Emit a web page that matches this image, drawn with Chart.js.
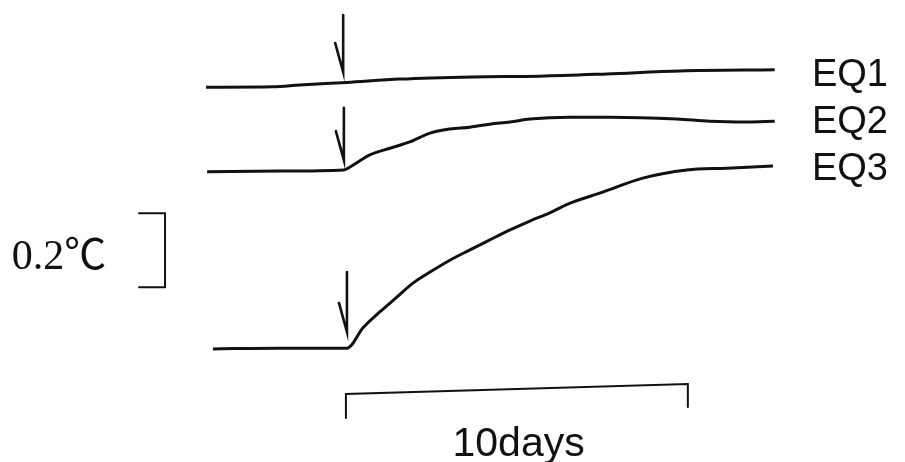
<!DOCTYPE html>
<html lang="en">
<head>
    <meta charset="UTF-8">
    <title>EQ temperature response</title>
    <script src="https://cdn.jsdelivr.net/npm/chart.js"></script>
    <style>
        body {
            margin: 0;
            background: #fff;
        }
        #wrap {
            width: 905px;
            height: 462px;
        }
    </style>
</head>
<body>
<div id="wrap"><canvas id="myChart" width="905" height="462"></canvas></div>
<script>
// days after the event (arrow = day 0)
const eq1Days = [-4.09, -2.13, -1.35, 0.03, 1.58, 3.71, 5.67, 7.63, 9.77, 12.54];
const eq1Temp = [0.704, 0.705, 0.710, 0.717, 0.726, 0.732, 0.734, 0.740, 0.748, 0.751];

const eq2Days = [-4.06, -1.93, -0.06, 0.12, 0.70, 1.29, 1.87, 2.46, 3.04, 3.63, 4.21, 4.80, 5.38, 6.55, 7.72, 9.68, 10.64, 11.73, 12.54];
const eq2Temp = [0.475, 0.477, 0.480, 0.488, 0.521, 0.539, 0.556, 0.580, 0.591, 0.596, 0.604, 0.610, 0.618, 0.623, 0.623, 0.618, 0.612, 0.610, 0.612];

const eq3Days = [-3.89, -1.93, 0.03, 0.50, 0.99, 1.49, 1.96, 2.46, 3.04, 3.63, 4.21, 4.80, 5.38, 5.96, 6.49, 7.51, 8.68, 9.97, 11.14, 12.49];
const eq3Temp = [-0.004, -0.002, -0.002, 0.053, 0.096, 0.136, 0.174, 0.204, 0.236, 0.264, 0.291, 0.318, 0.342, 0.364, 0.388, 0.420, 0.458, 0.480, 0.485, 0.491];

const seriesNames = ['EQ1', 'EQ2', 'EQ3'];
const scaleLabel = '0.2℃';
const timeLabel = '10days';

function toPoints(days, temps) {
    return days.map((d, i) => ({ x: d, y: temps[i] }));
}

// where the arrows, scale bars and labels sit (days, °C)
const marks = {
    arrows: [
        { x: -0.08, top: 0.899, bottom: 0.745 },
        { x: -0.06, top: 0.648, bottom: 0.507 },
        { x: 0.03, top: 0.204, bottom: 0.042 }
    ],
    tempBar: { x: -5.29, tick: -6.05, top: 0.363, bottom: 0.163 },
    tempText: { x: -9.77, y: 0.212 },
    dayBar: { left: 0, right: 10, leftTop: -0.126, rightTop: -0.099, leftBottom: -0.191, rightBottom: -0.161 },
    dayText: { x: 5.05, y: -0.294 },
    names: [
        { x: 13.63, y: 0.706 },
        { x: 13.63, y: 0.580 },
        { x: 13.63, y: 0.454 }
    ]
};

const decorPlugin = {
    id: 'decor',
    afterDatasetsDraw(chart) {
        const ctx = chart.ctx;
        const xs = chart.scales.x;
        const ys = chart.scales.y;
        const px = v => xs.getPixelForValue(v);
        const py = v => ys.getPixelForValue(v);
        ctx.save();
        ctx.strokeStyle = '#111';
        ctx.fillStyle = '#111';
        ctx.lineCap = 'round';

        // event arrows with a half head
        ctx.lineWidth = 2.6;
        marks.arrows.forEach(a => {
            const x = px(a.x), y0 = py(a.top), y1 = py(a.bottom);
            ctx.beginPath();
            ctx.moveTo(x, y0);
            ctx.lineTo(x, y1);
            ctx.lineTo(x - 8, y1 - 29);
            ctx.stroke();
        });

        // 0.2 degree bracket
        ctx.lineWidth = 2;
        const tb = marks.tempBar;
        ctx.beginPath();
        ctx.moveTo(px(tb.tick), py(tb.top));
        ctx.lineTo(px(tb.x), py(tb.top));
        ctx.lineTo(px(tb.x), py(tb.bottom));
        ctx.lineTo(px(tb.tick), py(tb.bottom));
        ctx.stroke();

        // 10 days bracket
        const db = marks.dayBar;
        ctx.beginPath();
        ctx.moveTo(px(db.left), py(db.leftBottom));
        ctx.lineTo(px(db.left), py(db.leftTop));
        ctx.lineTo(px(db.right), py(db.rightTop));
        ctx.lineTo(px(db.right), py(db.rightBottom));
        ctx.stroke();

        // texts
        ctx.textBaseline = 'alphabetic';
        ctx.textAlign = 'left';
        ctx.font = '42px "Liberation Serif", "Noto Sans CJK JP", serif';
        ctx.fillText(scaleLabel, px(marks.tempText.x), py(marks.tempText.y));

        ctx.font = '38px "Liberation Sans", Arial, sans-serif';
        seriesNames.forEach((name, i) => {
            ctx.fillText(name, px(marks.names[i].x), py(marks.names[i].y));
        });

        ctx.textAlign = 'center';
        ctx.font = '41px "Liberation Sans", Arial, sans-serif';
        ctx.fillText(timeLabel, px(marks.dayText.x), py(marks.dayText.y));
        ctx.restore();
    }
};

const lineStyle = {
    borderColor: '#111',
    borderWidth: 3,
    pointRadius: 0,
    cubicInterpolationMode: 'monotone',
    borderJoinStyle: 'round',
    fill: false
};

const ctx = document.getElementById('myChart').getContext('2d');
const myChart = new Chart(ctx, {
    type: 'line',
    data: {
        datasets: [
            Object.assign({ label: seriesNames[0], data: toPoints(eq1Days, eq1Temp) }, lineStyle),
            Object.assign({ label: seriesNames[1], data: toPoints(eq2Days, eq2Temp) }, lineStyle),
            Object.assign({ label: seriesNames[2], data: toPoints(eq3Days, eq3Temp) }, lineStyle)
        ]
    },
    options: {
        responsive: false,
        animation: false,
        layout: {
            padding: { left: 4, right: 12, top: 0, bottom: 0 }
        },
        plugins: {
            legend: { display: false },
            tooltip: { enabled: false }
        },
        scales: {
            x: { type: 'linear', min: -10, max: 16, display: false },
            y: { type: 'linear', min: -0.31, max: 0.94, display: false }
        }
    },
    plugins: [decorPlugin]
});
</script>
</body>
</html>
